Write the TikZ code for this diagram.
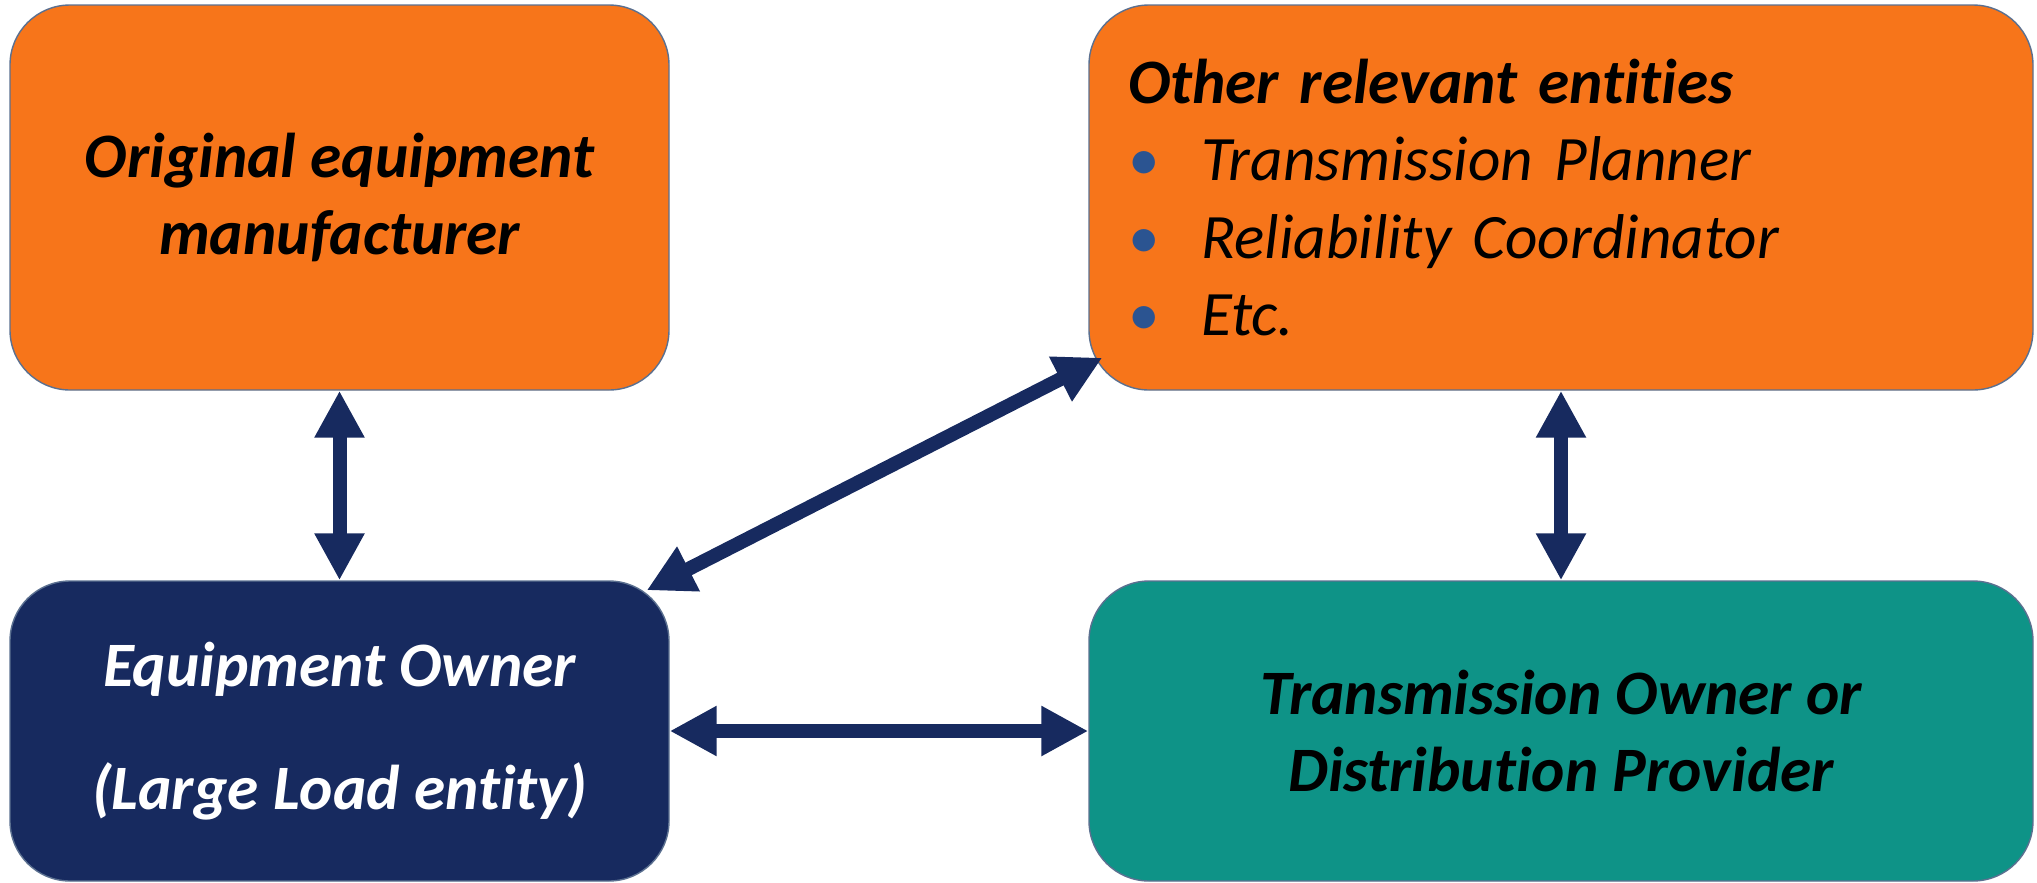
\documentclass[tikz,border=0pt]{standalone}
\usepackage{fontspec}
\setmainfont{Carlito}[Ligatures=NoCommon]
\usetikzlibrary{arrows.meta,calc}
\definecolor{boxorange}{HTML}{F7751A}
\definecolor{boxteal}{HTML}{0E9387}
\definecolor{boxnavy}{HTML}{172A5F}
\definecolor{boxedge}{HTML}{5B7090}
\definecolor{bulletblue}{HTML}{2B5491}

\begin{document}
\begin{tikzpicture}[line join=miter,x=1cm,y=1cm,
    entity/.style={draw=boxedge,line width=0.4pt,rounded corners=0.6cm,minimum width=6.59cm,minimum height=3.85cm,inner sep=0pt,align=center,font=\fontsize{18}{22}\selectfont\bfseries\itshape},
    link/.style={draw=boxnavy,line width=0.14cm,{Triangle[width=0.47cm,length=0.47cm]}-{Triangle[width=0.47cm,length=0.47cm]}}]
    \useasboundingbox (0,0) rectangle (20.37,-8.83);
    % boxes
    \node [entity,fill=boxorange] (oem) at (3.395,-1.975) {Original equipment\\manufacturer};
    \node [entity,fill=boxorange,minimum width=9.44cm,text width=8.66cm,align=left] (other) at (15.61,-1.975) {Other relevant entities\\
        {\mdseries\makebox[0.73cm][l]{\upshape\textcolor{bulletblue}{\textbullet}}Transmission Planner}\\
        {\mdseries\makebox[0.73cm][l]{\upshape\textcolor{bulletblue}{\textbullet}}Reliability Coordinator}\\
        {\mdseries\makebox[0.73cm][l]{\upshape\textcolor{bulletblue}{\textbullet}}Etc.}};
    \node [entity,fill=boxnavy,text=white,minimum height=3.00cm] (eo) at (3.395,-7.31) {Equipment Owner\\[0.46cm](Large Load entity)};
    \node [entity,fill=boxteal,minimum width=9.44cm,minimum height=3.00cm] (to) at (15.61,-7.31) {Transmission Owner or\\Distribution Provider};
    % links
    \draw [link] (oem.south) -- (eo.north);
    \draw [link] (other.south) -- (to.north);
    \draw [link] (eo.east) -- (to.west);
    \coordinate (eocorner) at ([shift={(-0.23,-0.10)}]eo.north east);
    \coordinate (othercorner) at ([shift={(0.14,0.33)}]other.south west);
    \draw [link] (eocorner) -- (othercorner);
\end{tikzpicture}
\end{document}
